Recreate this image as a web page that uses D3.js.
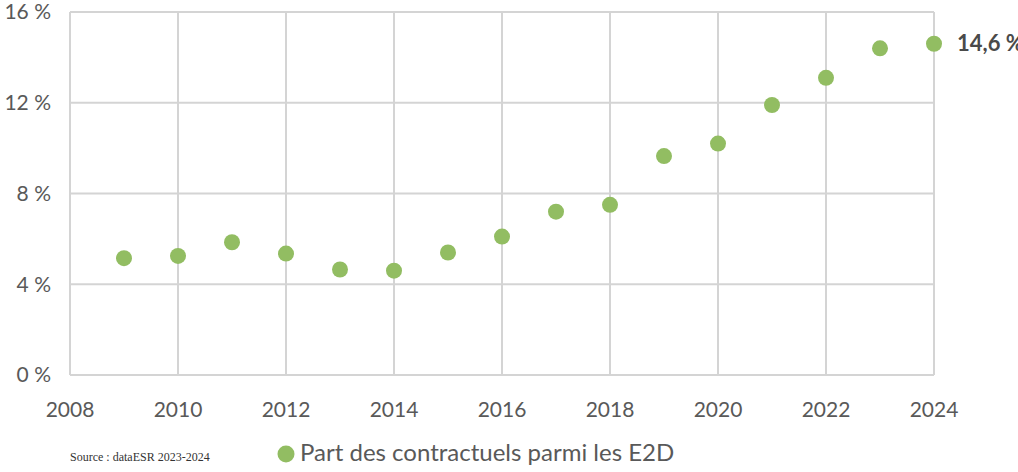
<!DOCTYPE html>
<html>
<head>
<meta charset="utf-8">
<script src="https://cdn.jsdelivr.net/npm/d3@7"></script>
<style>
  body { margin: 0; background: #fff; }
  svg { display: block; }
</style>
</head>
<body>
<svg id="chart"></svg>
<script>
// values (%)
const years = [2009, 2010, 2011, 2012, 2013, 2014, 2015, 2016, 2017, 2018, 2019, 2020, 2021, 2022, 2023, 2024];
const shares = [5.15, 5.25, 5.85, 5.35, 4.65, 4.6, 5.4, 6.1, 7.2, 7.5, 9.65, 10.2, 11.9, 13.1, 14.4, 14.6];
const yTicks = [0, 4, 8, 12, 16];
const xTicks = [2008, 2010, 2012, 2014, 2016, 2018, 2020, 2022, 2024];
const seriesName = "Part des contractuels parmi les E2D";
const sourceText = "Source : dataESR 2023-2024";
const lastLabel = "14,6 %";

const width = 1018;
const height = 472;
const margin = {left: 70, right: 84, top: 12, bottom: 97};
const green = "#92bd62";
const gridColor = "#d4d4d4";
const textColor = "#595959";
const font = "Lato, 'Open Sans', sans-serif";

const svg = d3.select("#chart")
  .attr("width", width)
  .attr("height", height);

const x = d3.scaleLinear()
  .domain([2008, 2024])
  .range([margin.left, width - margin.right]);

const y = d3.scaleLinear()
  .domain([0, 16])
  .range([height - margin.bottom, margin.top]);

// grid
svg.append("g")
  .selectAll("line.h")
  .data(yTicks)
  .enter().append("line")
  .attr("x1", x(2008)).attr("x2", x(2024))
  .attr("y1", d => y(d)).attr("y2", d => y(d))
  .attr("stroke", gridColor)
  .attr("stroke-width", 2);

svg.append("g")
  .selectAll("line.v")
  .data(xTicks)
  .enter().append("line")
  .attr("x1", d => x(d)).attr("x2", d => x(d))
  .attr("y1", y(16)).attr("y2", y(0))
  .attr("stroke", gridColor)
  .attr("stroke-width", 2);

// y labels
svg.append("g")
  .selectAll("text")
  .data(yTicks)
  .enter().append("text")
  .attr("x", 51)
  .attr("y", d => y(d))
  .attr("dy", "0.35em")
  .attr("text-anchor", "end")
  .attr("font-family", font)
  .attr("font-size", 21)
  .attr("fill", textColor)
  .text(d => d + " %");

// x labels
svg.append("g")
  .selectAll("text")
  .data(xTicks)
  .enter().append("text")
  .attr("x", d => x(d))
  .attr("y", 410)
  .attr("dy", "0.35em")
  .attr("text-anchor", "middle")
  .attr("font-family", font)
  .attr("font-size", 21)
  .attr("fill", textColor)
  .text(d => d);

// points
svg.append("g")
  .selectAll("circle")
  .data(years)
  .enter().append("circle")
  .attr("cx", d => x(d))
  .attr("cy", (d, i) => y(shares[i]))
  .attr("r", 8)
  .attr("fill", green);

// label on last point
svg.append("text")
  .attr("x", x(years[years.length - 1]) + 23)
  .attr("y", y(shares[shares.length - 1]))
  .attr("dy", "0.35em")
  .attr("font-family", font)
  .attr("font-size", 22)
  .attr("font-weight", "bold")
  .attr("fill", "#4a4a4a")
  .text(lastLabel);

// legend
svg.append("circle")
  .attr("cx", 286)
  .attr("cy", 454)
  .attr("r", 8.5)
  .attr("fill", green);

svg.append("text")
  .attr("x", 300)
  .attr("y", 453)
  .attr("dy", "0.35em")
  .attr("font-family", font)
  .attr("font-size", 24)
  .attr("fill", textColor)
  .text(seriesName);

svg.append("text")
  .attr("x", 70)
  .attr("y", 457)
  .attr("dy", "0.35em")
  .attr("font-family", "'Liberation Serif', serif")
  .attr("font-size", 12)
  .attr("fill", "#333")
  .text(sourceText);
</script>
</body>
</html>
